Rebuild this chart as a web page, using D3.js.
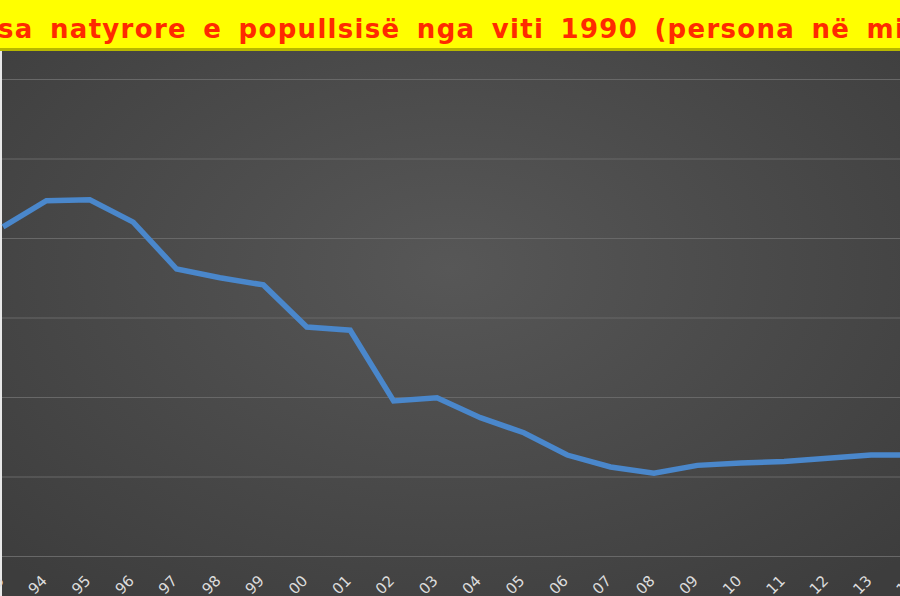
<!DOCTYPE html>
<html><head><meta charset="utf-8">
<script src="https://cdn.jsdelivr.net/npm/d3@7/dist/d3.min.js"></script>
<style>html,body{margin:0;padding:0;background:#fff;overflow:hidden}svg{display:block}</style>
</head><body>
<svg id="c" width="900" height="596"></svg>
<script>
const title = "Shtesa natyrore e popullsisë nga viti 1990 (persona në mijë)";
const years = ["93","94","95","96","97","98","99","00","01","02","03","04","05","06","07","08","09","10","11","12","13","14"];
const values = [41.4,44.7,44.8,42.0,36.1,35.0,34.1,28.8,28.4,19.5,19.9,17.4,15.5,12.7,11.2,10.4,11.4,11.7,11.9,12.3,12.7,12.7];
const yTicks = [0,10,20,30,40,50,60];

const svg = d3.select("#c");
const W = 900, H = 596;
const defs = svg.append("defs");
const rg = defs.append("radialGradient").attr("id","bg").attr("cx","50%").attr("cy","45%").attr("r","70%");
rg.append("stop").attr("offset","0%").attr("stop-color","#575757");
rg.append("stop").attr("offset","100%").attr("stop-color","#3d3d3d");

svg.append("rect").attr("x",0).attr("y",0).attr("width",W).attr("height",H).attr("fill","url(#bg)");
svg.append("rect").attr("x",0).attr("y",0).attr("width",2).attr("height",H).attr("fill","#e8e8e8");

const x = d3.scalePoint().domain(years).range([3, 3 + 43.4*(years.length-1)]);
const y = d3.scaleLinear().domain([0,60]).range([556,79]);

// gridlines
svg.append("g").selectAll("line").data(yTicks).join("line")
  .attr("x1",2).attr("x2",W).attr("y1",d=>y(d)+0.5).attr("y2",d=>y(d)+0.5)
  .attr("stroke","#686868").attr("stroke-width",1.2);

// line
const line = d3.line().x((d,i)=>x(years[i])).y(d=>y(d));
svg.append("path").datum(values).attr("d",line)
  .attr("fill","none").attr("stroke","#4a87cb").attr("stroke-width",5.5)
  .attr("stroke-linejoin","miter").attr("stroke-linecap","butt");

// x labels
svg.append("g").selectAll("text").data(years).join("text")
  .attr("transform",d=>`translate(${x(d)-2},${578}) rotate(-45)`)
  .attr("text-anchor","end").attr("dy","0.35em")
  .attr("font-family","DejaVu Sans, sans-serif").attr("font-size",15)
  .attr("fill","#dcdcdc").text(d=>d);

// title banner
svg.append("rect").attr("x",0).attr("y",0).attr("width",W).attr("height",50).attr("fill","#ffff00");
svg.append("rect").attr("x",0).attr("y",48).attr("width",W).attr("height",3).attr("fill","#b8b800");
const tt = svg.append("text").attr("y",38)
  .attr("font-family","DejaVu Sans, sans-serif").attr("font-weight","bold")
  .attr("font-size",26).attr("letter-spacing","1.3px").attr("word-spacing","6px")
  .attr("fill","#ff2a00").attr("xml:space","preserve");
const pre = tt.append("tspan").text("Shte");
tt.append("tspan").text(title.slice(4));
const off = pre.node().getComputedTextLength();
tt.attr("x", -2 - off);
</script>
</body></html>
